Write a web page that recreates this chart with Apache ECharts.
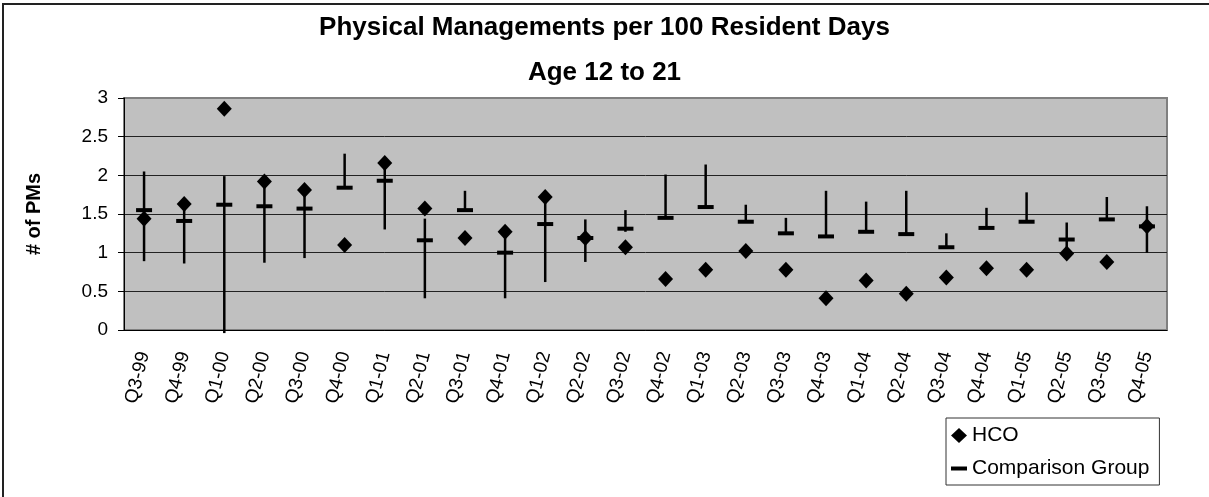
<!DOCTYPE html>
<html>
<head>
<meta charset="utf-8">
<script src="https://cdn.jsdelivr.net/npm/echarts@6/dist/echarts.min.js"></script>
<style>
  html, body { margin: 0; padding: 0; background: #fff; }
  #chart { width: 1209px; height: 497px; }
</style>
</head>
<body>
<div id="chart"></div>
<script>
const categories = ['Q3-99', 'Q4-99', 'Q1-00', 'Q2-00', 'Q3-00', 'Q4-00', 'Q1-01', 'Q2-01', 'Q3-01',
  'Q4-01', 'Q1-02', 'Q2-02', 'Q3-02', 'Q4-02', 'Q1-03', 'Q2-03', 'Q3-03', 'Q4-03', 'Q1-04',
  'Q2-04', 'Q3-04', 'Q4-04', 'Q1-05', 'Q2-05', 'Q3-05', 'Q4-05']

// HCO rate per quarter
const hco = [1.44, 1.63, 2.86, 1.92, 1.81, 1.10, 2.16, 1.57, 1.19, 1.27, 1.72, 1.19, 1.07,
  0.66, 0.78, 1.02, 0.78, 0.41, 0.64, 0.47, 0.68, 0.80, 0.78, 0.99, 0.88, 1.34]

// comparison group mean
const comparison = [1.55, 1.41, 1.62, 1.60, 1.57, 1.84, 1.93, 1.16, 1.55, 1.00, 1.37, 1.19, 1.31,
  1.45, 1.59, 1.40, 1.25, 1.21, 1.27, 1.24, 1.07, 1.32, 1.40, 1.17, 1.43, 1.34]

// comparison group range (high-low line)
const rangeHigh = [2.05, 1.60, 1.99, 1.88, 1.76, 2.28, 2.10, 1.44, 1.80, 1.22, 1.68, 1.43, 1.55,
  2.01, 2.14, 1.62, 1.45, 1.80, 1.66, 1.80, 1.25, 1.58, 1.78, 1.39, 1.72, 1.60]
const rangeLow = [0.89, 0.86, -0.04, 0.87, 0.93, 1.84, 1.30, 0.41, 1.55, 0.41, 0.62, 0.88, 1.27,
  1.45, 1.59, 1.40, 1.25, 1.21, 1.27, 1.24, 1.07, 1.32, 1.40, 1.03, 1.43, 1.00]

const yTicks = [0, 0.5, 1, 1.5, 2, 2.5, 3]

const font = "'Liberation Sans', Arial, sans-serif"

const chart = echarts.init(document.getElementById('chart'))

const renderRange = (params, api) => {
  const top = api.coord([api.value(0), api.value(2)])
  const bottom = api.coord([api.value(0), api.value(1)])
  return {
    type: 'line',
    shape: { x1: top[0], y1: top[1], x2: bottom[0], y2: bottom[1] },
    style: { stroke: '#000', lineWidth: 2.5 }
  }
}

const option = {
  backgroundColor: '#fff',
  animation: false,
  textStyle: { fontFamily: font },
  title: [
    {
      text: 'Physical Managements per 100 Resident Days',
      left: 'center',
      top: 10,
      textStyle: { fontFamily: font, fontSize: 26, fontWeight: 'bold', color: '#000' }
    },
    {
      text: 'Age 12 to 21',
      left: 'center',
      top: 55,
      textStyle: { fontFamily: font, fontSize: 26, fontWeight: 'bold', color: '#000' }
    }
  ],
  graphic: [
    {
      type: 'rect',
      shape: { x: 3, y: 4, width: 1240, height: 540 },
      style: { fill: 'none', stroke: '#222', lineWidth: 2 },
      silent: true
    }
  ],
  legend: {
    orient: 'vertical',
    left: 946,
    top: 418,
    padding: [7, 10, 6, 5],
    itemWidth: 16,
    itemHeight: 15,
    itemGap: 12,
    borderColor: '#333',
    borderWidth: 1,
    textStyle: { fontFamily: font, fontSize: 21, color: '#000' },
    data: [
      { name: 'HCO', icon: 'diamond' },
      { name: 'Comparison Group', icon: 'path://M0,0H16V4H0Z' }
    ]
  },
  grid: {
    left: 124,
    right: 42,
    top: 98,
    bottom: 167,
    show: true,
    backgroundColor: '#C0C0C0',
    borderColor: '#808080',
    borderWidth: 2
  },
  xAxis: {
    type: 'category',
    data: categories,
    boundaryGap: true,
    axisLine: { lineStyle: { color: '#000', width: 1 } },
    axisTick: { length: 6, lineStyle: { color: '#000' } },
    axisLabel: {
      rotate: 76,
      margin: 22,
      interval: 0,
      color: '#000',
      fontFamily: font,
      fontSize: 19
    },
    splitLine: { show: false }
  },
  yAxis: {
    type: 'value',
    min: yTicks[0],
    max: yTicks[yTicks.length - 1],
    interval: 0.5,
    name: '# of PMs',
    nameLocation: 'middle',
    nameGap: 80,
    nameTextStyle: { fontFamily: font, fontSize: 20, fontWeight: 'bold', color: '#000' },
    axisLine: { show: true, lineStyle: { color: '#000', width: 1 } },
    axisTick: { show: true, length: 6, lineStyle: { color: '#000' } },
    axisLabel: {
      margin: 16,
      color: '#000',
      fontFamily: font,
      fontSize: 19
    },
    splitLine: {
      show: true,
      showMaxLine: false,
      lineStyle: { color: '#222', width: 1 }
    }
  },
  series: [
    {
      name: 'Range',
      type: 'custom',
      renderItem: renderRange,
      encode: { x: 0, y: [1, 2] },
      data: categories.map((c, i) => [i, rangeLow[i], rangeHigh[i]]),
      silent: true,
      z: 2
    },
    {
      name: 'Comparison Group',
      type: 'scatter',
      symbol: 'rect',
      symbolSize: [16, 4],
      itemStyle: { color: '#000', opacity: 1 },
      data: comparison,
      z: 3
    },
    {
      name: 'HCO',
      type: 'scatter',
      symbol: 'diamond',
      symbolSize: [15, 16],
      itemStyle: { color: '#000', opacity: 1 },
      data: hco,
      z: 4
    }
  ]
}

chart.setOption(option)
</script>
</body>
</html>
